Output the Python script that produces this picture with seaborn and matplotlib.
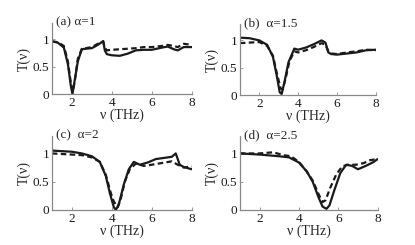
import numpy as np
import pandas as pd
import matplotlib
matplotlib.use("Agg")
import matplotlib.pyplot as plt
import seaborn as sns

sns.set_theme(style="ticks")
plt.rcParams['font.family'] = ['Liberation Serif', 'DejaVu Serif']
plt.rcParams['mathtext.fontset'] = 'stix'

# (a) alpha=1
xa_s = [1.0, 1.3, 1.6, 1.8, 1.95, 2.03, 2.12, 2.3, 2.5, 2.7, 3.0, 3.3, 3.57, 3.65, 3.75, 4.0, 4.4, 4.8, 5.2, 5.6, 6.0, 6.5, 6.8, 7.1, 7.3, 7.6, 8.0]
ya_s = [0.97, 0.94, 0.85, 0.55, 0.15, 0.0, 0.2, 0.6, 0.82, 0.83, 0.84, 0.9, 0.97, 0.8, 0.73, 0.71, 0.70, 0.74, 0.8, 0.81, 0.81, 0.85, 0.87, 0.82, 0.80, 0.86, 0.86]
xa_d = [1.0, 1.3, 1.6, 1.8, 1.95, 2.05, 2.15, 2.3, 2.5, 2.7, 3.0, 3.3, 3.57, 3.65, 3.75, 4.0, 4.4, 4.8, 5.2, 5.6, 6.0, 6.5, 6.8, 7.1, 7.3, 7.6, 8.0]
ya_d = [0.96, 0.95, 0.88, 0.6, 0.2, 0.05, 0.25, 0.65, 0.83, 0.84, 0.86, 0.92, 0.96, 0.85, 0.80, 0.81, 0.82, 0.83, 0.84, 0.86, 0.86, 0.88, 0.90, 0.88, 0.86, 0.92, 0.90]

# (b) alpha=1.5
xb_s = [1.0, 1.5, 2.0, 2.4, 2.7, 2.9, 3.05, 3.15, 3.3, 3.5, 3.8, 4.0, 4.4, 4.8, 5.2, 5.4, 5.55, 5.7, 6.0, 6.5, 7.0, 7.5, 8.0]
yb_s = [1.05, 1.04, 1.0, 0.92, 0.7, 0.35, 0.05, 0.02, 0.25, 0.6, 0.85, 0.83, 0.87, 0.93, 1.0, 0.96, 0.78, 0.75, 0.74, 0.76, 0.78, 0.82, 0.83]
xb_d = [1.0, 1.5, 2.0, 2.4, 2.7, 2.9, 3.1, 3.2, 3.35, 3.55, 3.8, 4.0, 4.4, 4.8, 5.2, 5.4, 5.55, 5.7, 6.0, 6.5, 7.0, 7.5, 8.0]
yb_d = [0.95, 0.96, 0.97, 0.9, 0.72, 0.4, 0.12, 0.1, 0.3, 0.62, 0.8, 0.78, 0.82, 0.88, 0.95, 0.92, 0.8, 0.76, 0.75, 0.78, 0.80, 0.83, 0.82]

# (c) alpha=2
xc_s = [1.0, 2.0, 2.5, 3.0, 3.4, 3.7, 3.9, 4.1, 4.2, 4.35, 4.6, 4.85, 5.1, 5.4, 5.8, 6.2, 6.6, 7.0, 7.2, 7.4, 7.6, 8.0]
yc_s = [1.05, 1.03, 1.0, 0.95, 0.85, 0.6, 0.3, 0.05, 0.0, 0.1, 0.45, 0.72, 0.85, 0.8, 0.84, 0.9, 0.92, 0.94, 1.0, 0.8, 0.76, 0.72]
xc_d = [1.0, 2.0, 2.5, 3.0, 3.4, 3.7, 3.95, 4.1, 4.3, 4.45, 4.65, 4.9, 5.2, 5.6, 6.0, 6.5, 7.0, 7.3, 7.6, 8.0]
yc_d = [1.0, 0.98, 0.97, 0.93, 0.85, 0.62, 0.3, 0.15, 0.05, 0.2, 0.5, 0.72, 0.82, 0.78, 0.80, 0.83, 0.86, 0.80, 0.75, 0.77]

# (d) alpha=2.5
xd_s = [1.0, 2.0, 3.0, 3.5, 4.0, 4.4, 4.7, 5.0, 5.2, 5.4, 5.55, 5.8, 6.1, 6.4, 6.7, 7.0, 7.4, 7.8, 8.0]
yd_s = [1.0, 0.98, 0.95, 0.93, 0.84, 0.68, 0.5, 0.22, 0.06, 0.02, 0.08, 0.35, 0.65, 0.8, 0.78, 0.72, 0.78, 0.85, 0.9]
xd_d = [1.0, 2.0, 2.7, 3.2, 3.6, 4.0, 4.4, 4.7, 5.0, 5.2, 5.35, 5.6, 5.9, 6.2, 6.5, 6.9, 7.3, 7.6, 8.0]
yd_d = [1.0, 1.0, 1.02, 0.97, 0.95, 0.85, 0.68, 0.52, 0.28, 0.14, 0.17, 0.4, 0.63, 0.77, 0.8, 0.8, 0.83, 0.88, 0.9]

panels = [
    ("(a) α=1", xa_s, ya_s, xa_d, ya_d),
    ("(b)  α=1.5", xb_s, yb_s, xb_d, yb_d),
    ("(c)  α=2", xc_s, yc_s, xc_d, yc_d),
    ("(d)  α=2.5", xd_s, yd_s, xd_d, yd_d),
]

fig = plt.figure(figsize=(4.15, 2.45), dpi=100)
rects = [
    [0.125, 0.616, 0.337, 0.29],
    [0.578, 0.612, 0.328, 0.29],
    [0.125, 0.143, 0.337, 0.30],
    [0.578, 0.143, 0.332, 0.30],
]

for rect, (lab, xs, ys, xd, yd) in zip(rects, panels):
    ax = fig.add_axes(rect)
    sns.lineplot(x=xs, y=ys, ax=ax, color='k', lw=1.6, sort=False)
    sns.lineplot(x=xd, y=yd, ax=ax, color='k', lw=1.6, dashes=(2.5, 1.5), sort=False)
    ax.set_xlim(1, 8)
    ax.set_ylim(0, 1.3)
    ax.set_xticks([2, 4, 6, 8])
    ax.set_yticks([0, 0.5, 1])
    ax.set_yticklabels(['0', '0.5', '1'])
    ax.tick_params(direction='in', length=2, width=0.6, labelsize=9.5, pad=2, colors='#888888', labelcolor='k')
    for s in ['top', 'right']:
        ax.spines[s].set_visible(False)
    for s in ['left', 'bottom']:
        ax.spines[s].set_color('#888888')
        ax.spines[s].set_linewidth(0.9)
    ax.set_xlabel('ν (THz)', fontsize=10, labelpad=0)
    ax.set_ylabel('T(ν)', fontsize=10, labelpad=1)
    ax.text(0.03, 1.1, lab, transform=ax.transAxes, fontsize=9.5, va='top', ha='left')

plt.savefig('out.png', dpi=100)
